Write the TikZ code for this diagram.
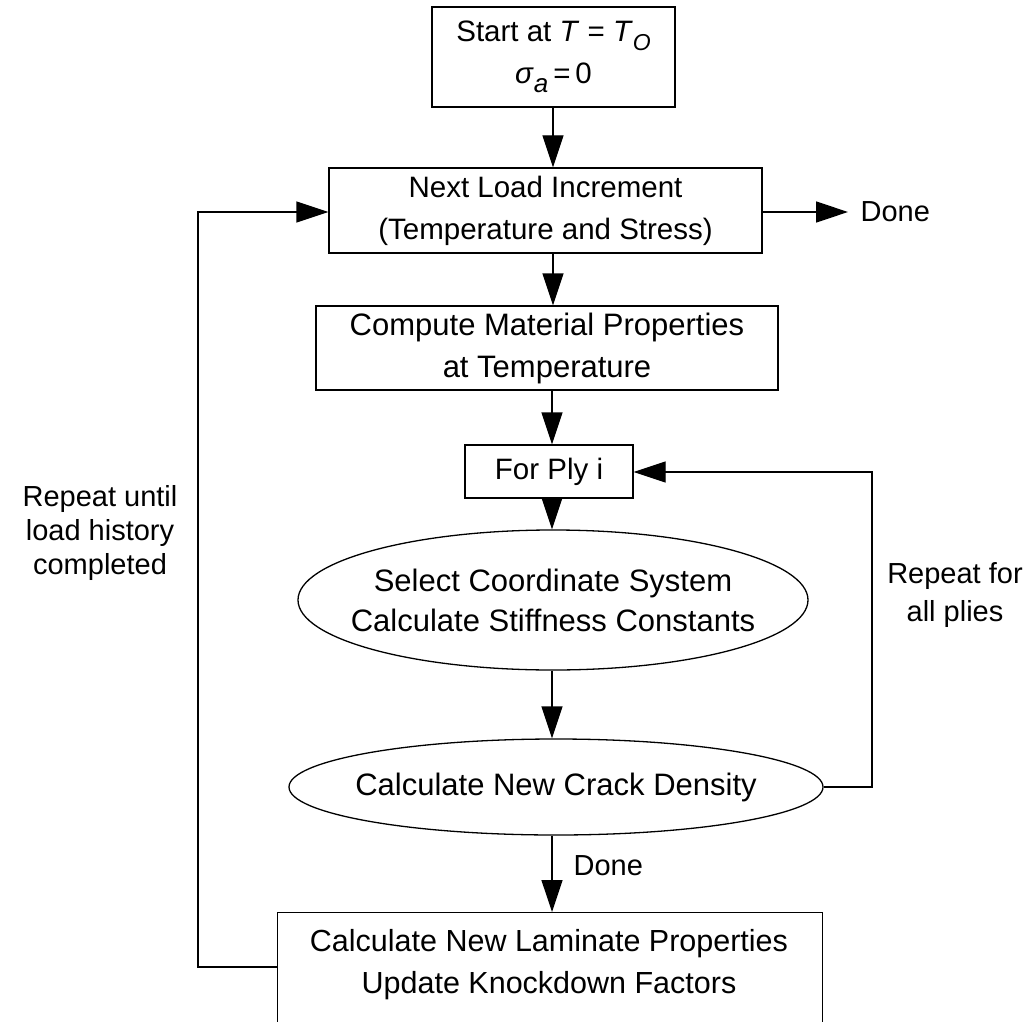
\documentclass[tikz,border=0pt]{standalone}
\usepackage{fontspec}
\setmainfont{Liberation Sans}
\usetikzlibrary{arrows.meta,shapes.geometric}
\newcommand{\zw}[1]{\makebox[0pt]{#1}}
\begin{document}
\begin{tikzpicture}[x=1pt,y=-1pt,
  line width=1.3pt,
  tri/.style={-{Triangle[length=32pt,width=21pt]}},
  boxnode/.style={draw, rectangle, inner sep=0pt, align=center, font=\fontsize{29.5}{42}\selectfont},
  ellnode/.style={draw, ellipse, inner sep=0pt, align=center, font=\fontsize{31}{40}\selectfont},
  lbl/.style={align=center, inner sep=0pt, font=\fontsize{29}{34}\selectfont}]
\useasboundingbox (0,0) rectangle (1025,1022);
\clip (0,0) rectangle (1025,1022);
\fill[white] (0,0) rectangle (1025,1022);

\node[boxnode, minimum width=243pt, minimum height=100pt] (start) at (553.5,57)
  {Start at \textit{T} = \textit{T}\raisebox{-0.3em}{\fontsize{23}{23}\selectfont\textit{O}}\\
   \textit{σ}\raisebox{-0.3em}{\fontsize{26}{26}\selectfont\textit{a}}\,=\,0};
\node[boxnode, minimum width=433pt, minimum height=85pt] (next) at (545.5,210.5)
  {Next Load Increment\\(Temperature and Stress)};
\node[boxnode, minimum width=462pt, minimum height=84pt, font=\fontsize{31}{42}\selectfont] (comp) at (547,348)
  {Compute Material Properties\\at Temperature};
\node[boxnode, minimum width=168pt, minimum height=53pt] (ply) at (549,471.5)
  {For Ply i};
\node[ellnode, minimum width=510pt, minimum height=140pt] (sel) at (553,600)
  {\zw{Select Coordinate System}\\\zw{Calculate Stiffness Constants}};
\node[ellnode, minimum width=534pt, minimum height=96pt] (crack) at (556,787)
  {\zw{Calculate New Crack Density}};
\node[draw, rectangle, minimum width=545pt, minimum height=160pt, anchor=north west] (lam) at (277,912) {};
\node[font=\fontsize{30.5}{42}\selectfont, align=center, inner sep=0pt] (lamtxt) at (549,965)
  {Calculate New Laminate Properties\\Update Knockdown Factors};

\node[lbl, anchor=west] (done1) at (860,212) {Done};
\node[lbl, anchor=west] (done2) at (573,866) {Done};
\node[lbl] (rep1) at (100,533) {Repeat until\\load history\\completed};
\node[lbl, font=\fontsize{29}{38}\selectfont] (rep2) at (955,595) {Repeat for\\all plies};

\coordinate (lamw) at (lam.west |- 0,967);
\coordinate (lc1) at (198,967);
\coordinate (lc2) at (198,212);
\coordinate (rc1) at (872,787);
\coordinate (rc2) at (872,472);
\coordinate (doneend) at (848,212);

\draw[tri] (start.south -| 553,0) -- (next.north -| 553,0);
\draw[tri] (next.south -| 553,0) -- (comp.north -| 553,0);
\draw[tri] (comp.south -| 552,0) -- (ply.north -| 552,0);
\draw[tri] (ply.south -| 552,0) -- (sel.north -| 552,0);
\draw[tri] (sel.south -| 552,0) -- (crack.north -| 552,0);
\draw[tri] (crack.south -| 552,0) -- (lam.north -| 552,0);
\draw[tri] (next.east |- doneend) -- (doneend);
\draw[tri] (crack.east) -- (rc1) -- (rc2) -- (ply.east |- rc2);
\draw[tri] (lamw) -- (lc1) -- (lc2) -- (next.west |- lc2);
\end{tikzpicture}
\end{document}
